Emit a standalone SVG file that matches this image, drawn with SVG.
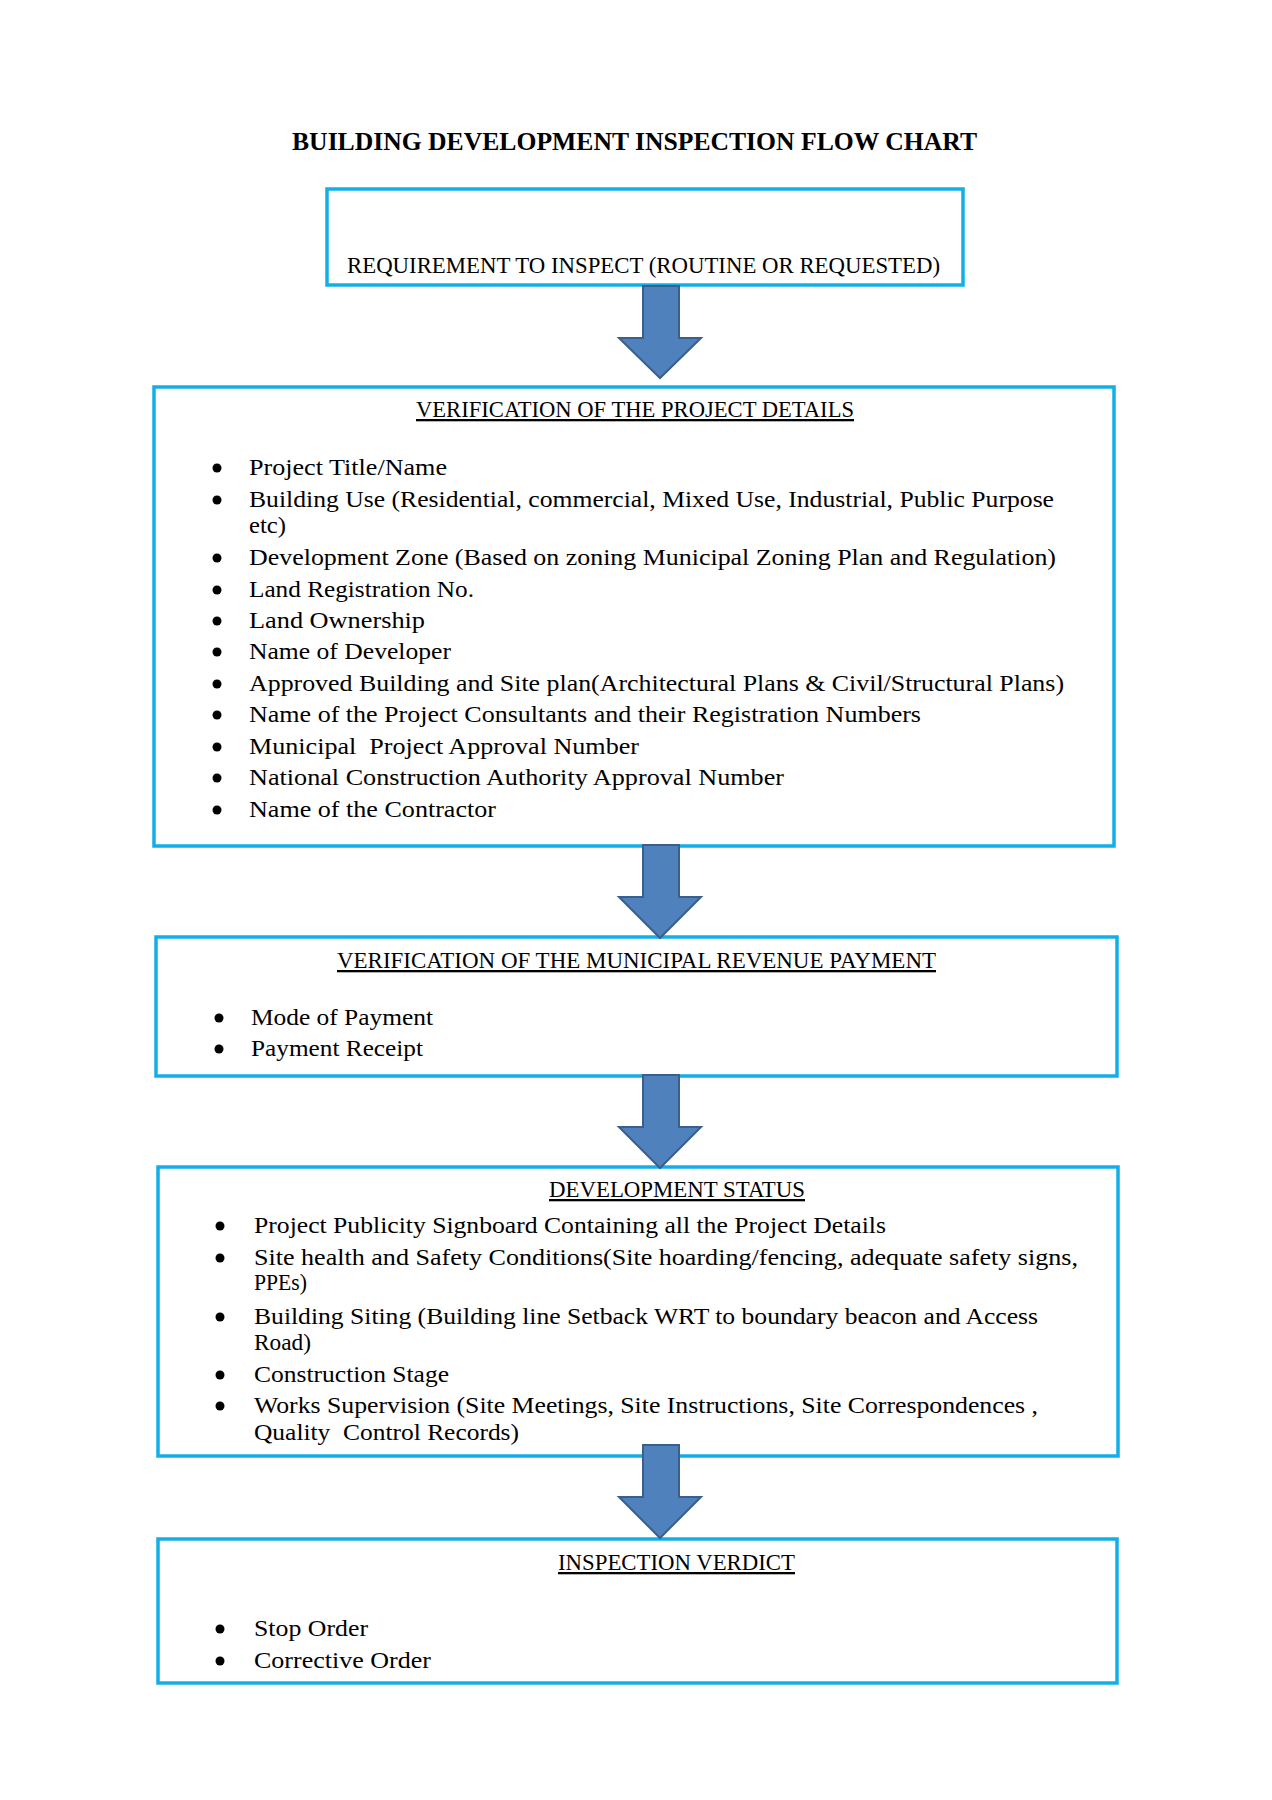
<svg xmlns="http://www.w3.org/2000/svg" width="1272" height="1800" viewBox="0 0 1272 1800">
<style>
.box{fill:#fff;stroke:#12AEE8;stroke-width:3.5}
.t{font-family:"Liberation Serif","Times New Roman",serif;font-size:23px;fill:#000}
.h{text-decoration:underline}
.title{font-family:"Liberation Serif","Times New Roman",serif;font-size:25px;font-weight:bold;fill:#000}
.arr{fill:#4F81BD;stroke:#3A5F8C;stroke-width:2;stroke-linejoin:miter}
.b{fill:#000}
</style>
<rect width="1272" height="1800" fill="#fff"/>
<text class="title" x="292" y="150" textLength="685" lengthAdjust="spacingAndGlyphs">BUILDING DEVELOPMENT INSPECTION FLOW CHART</text>
<g id="n1">
<rect class="box" x="327" y="189" width="636" height="96"/>
<text class="t" x="347" y="273" textLength="593" lengthAdjust="spacingAndGlyphs">REQUIREMENT TO INSPECT (ROUTINE OR REQUESTED)</text>
</g>
<g id="n2">
<rect class="box" x="154" y="387" width="960" height="459"/>
<text class="t h" x="416" y="417" textLength="438" lengthAdjust="spacingAndGlyphs">VERIFICATION OF THE PROJECT DETAILS</text>
<g class="b">
<circle cx="217" cy="468" r="4.5"/><circle cx="217" cy="500" r="4.5"/><circle cx="217" cy="558" r="4.5"/><circle cx="217" cy="590" r="4.5"/><circle cx="217" cy="621" r="4.5"/><circle cx="217" cy="652" r="4.5"/><circle cx="217" cy="684" r="4.5"/><circle cx="217" cy="715" r="4.5"/><circle cx="217" cy="747" r="4.5"/><circle cx="217" cy="778" r="4.5"/><circle cx="217" cy="810" r="4.5"/>
</g>
<text class="t" x="249" y="475" textLength="198" lengthAdjust="spacingAndGlyphs">Project Title/Name</text>
<text class="t" x="249" y="507" textLength="805" lengthAdjust="spacingAndGlyphs">Building Use (Residential, commercial, Mixed Use, Industrial, Public Purpose</text>
<text class="t" x="249" y="533" textLength="37" lengthAdjust="spacingAndGlyphs">etc)</text>
<text class="t" x="249" y="565" textLength="807" lengthAdjust="spacingAndGlyphs">Development Zone (Based on zoning Municipal Zoning Plan and Regulation)</text>
<text class="t" x="249" y="597" textLength="225" lengthAdjust="spacingAndGlyphs">Land Registration No.</text>
<text class="t" x="249" y="628" textLength="176" lengthAdjust="spacingAndGlyphs">Land Ownership</text>
<text class="t" x="249" y="659" textLength="202" lengthAdjust="spacingAndGlyphs">Name of Developer</text>
<text class="t" x="249" y="691" textLength="815" lengthAdjust="spacingAndGlyphs">Approved Building and Site plan(Architectural Plans &amp; Civil/Structural Plans)</text>
<text class="t" x="249" y="722" textLength="672" lengthAdjust="spacingAndGlyphs">Name of the Project Consultants and their Registration Numbers</text>
<text class="t" x="249" y="754" textLength="390" lengthAdjust="spacingAndGlyphs" xml:space="preserve">Municipal  Project Approval Number</text>
<text class="t" x="249" y="785" textLength="535" lengthAdjust="spacingAndGlyphs">National Construction Authority Approval Number</text>
<text class="t" x="249" y="817" textLength="247" lengthAdjust="spacingAndGlyphs">Name of the Contractor</text>
</g>
<g id="n3">
<rect class="box" x="156" y="937" width="961" height="139"/>
<text class="t h" x="337" y="968" textLength="599" lengthAdjust="spacingAndGlyphs">VERIFICATION OF THE MUNICIPAL REVENUE PAYMENT</text>
<g class="b"><circle cx="219" cy="1018" r="4.5"/><circle cx="219" cy="1049" r="4.5"/></g>
<text class="t" x="251" y="1025" textLength="182" lengthAdjust="spacingAndGlyphs">Mode of Payment</text>
<text class="t" x="251" y="1056" textLength="172" lengthAdjust="spacingAndGlyphs">Payment Receipt</text>
</g>
<g id="n4">
<rect class="box" x="158" y="1167" width="960" height="289"/>
<text class="t h" x="549" y="1197" textLength="256" lengthAdjust="spacingAndGlyphs">DEVELOPMENT STATUS</text>
<g class="b"><circle cx="220" cy="1226" r="4.5"/><circle cx="220" cy="1258" r="4.5"/><circle cx="220" cy="1317" r="4.5"/><circle cx="220" cy="1375" r="4.5"/><circle cx="220" cy="1406" r="4.5"/></g>
<text class="t" x="254" y="1233" textLength="632" lengthAdjust="spacingAndGlyphs">Project Publicity Signboard Containing all the Project Details</text>
<text class="t" x="254" y="1265" textLength="824" lengthAdjust="spacingAndGlyphs">Site health and Safety Conditions(Site hoarding/fencing, adequate safety signs,</text>
<text class="t" x="254" y="1290" textLength="53" lengthAdjust="spacingAndGlyphs">PPEs)</text>
<text class="t" x="254" y="1324" textLength="784" lengthAdjust="spacingAndGlyphs">Building Siting (Building line Setback WRT to boundary beacon and Access</text>
<text class="t" x="254" y="1350" textLength="57" lengthAdjust="spacingAndGlyphs">Road)</text>
<text class="t" x="254" y="1382" textLength="195" lengthAdjust="spacingAndGlyphs">Construction Stage</text>
<text class="t" x="254" y="1413" textLength="784" lengthAdjust="spacingAndGlyphs">Works Supervision (Site Meetings, Site Instructions, Site Correspondences ,</text>
<text class="t" x="254" y="1440" textLength="265" lengthAdjust="spacingAndGlyphs" xml:space="preserve">Quality  Control Records)</text>
</g>
<g id="n5">
<rect class="box" x="158" y="1539" width="959" height="144"/>
<text class="t h" x="558" y="1570" textLength="237" lengthAdjust="spacingAndGlyphs">INSPECTION VERDICT</text>
<g class="b"><circle cx="220" cy="1629" r="4.5"/><circle cx="220" cy="1661" r="4.5"/></g>
<text class="t" x="254" y="1636" textLength="114" lengthAdjust="spacingAndGlyphs">Stop Order</text>
<text class="t" x="254" y="1668" textLength="177" lengthAdjust="spacingAndGlyphs">Corrective Order</text>
</g>
<g id="connectors">
<polygon class="arr" points="643,286 679,286 679,338 701,338 660,378 619,338 643,338"/>
<polygon class="arr" points="643,845 679,845 679,897 701,897 660,938 619,897 643,897"/>
<polygon class="arr" points="643,1075 679,1075 679,1127 701,1127 660,1168 619,1127 643,1127"/>
<polygon class="arr" points="643,1445 679,1445 679,1497 701,1497 660,1538 619,1497 643,1497"/>
</g>
</svg>
